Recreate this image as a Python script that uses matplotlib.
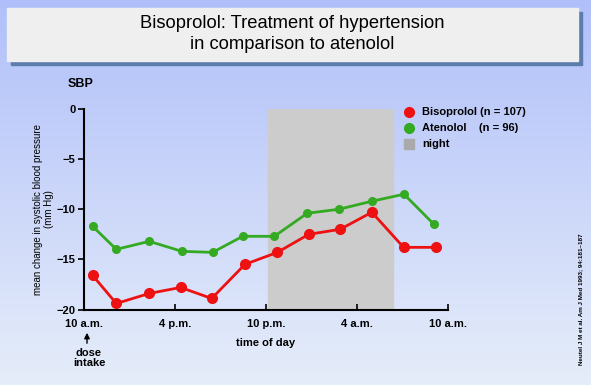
import numpy as np
import matplotlib
matplotlib.use("Agg")
from matplotlib import pyplot as plt
from matplotlib.patches import Rectangle

plt.rcParams['font.family'] = ['Liberation Sans', 'DejaVu Sans']

# hours after 10 a.m. dose intake
hours_biso = [0.57, 2.13, 4.3, 6.37, 8.42, 10.61, 12.75, 14.82, 16.89, 18.98, 21.07, 23.22]
sbp_biso = [-16.6, -19.4, -18.4, -17.8, -18.9, -15.5, -14.3, -12.5, -12.0, -10.3, -13.8, -13.8]

hours_aten = [0.57, 2.13, 4.3, 6.46, 8.48, 10.46, 12.55, 14.72, 16.81, 18.98, 21.1, 23.07]
sbp_aten = [-11.7, -14.0, -13.2, -14.2, -14.3, -12.7, -12.7, -10.4, -10.0, -9.2, -8.5, -11.5]

night_start, night_end = 12.1, 20.4
tick_hours = [0, 6, 12, 18, 24]
tick_labels = ['10 a.m.', '4 p.m.', '10 p.m.', '4 a.m.', '10 a.m.']
y_ticks = [0, -5, -10, -15, -20]

W, H = 591, 385
fig = plt.figure(figsize=(W / 100, H / 100), dpi=100)

# background gradient
bg = fig.add_axes([0, 0, 1, 1], zorder=-10)
grad = np.linspace(0, 1, 256).reshape(-1, 1)
top = np.array([0.69, 0.75, 0.98])
bot = np.array([0.90, 0.93, 0.98])
img = top + (bot - top) * grad[:, :, None]
bg.imshow(img, aspect='auto', extent=[0, 1, 0, 1])
bg.set_axis_off()


def fx(px):
    return px / W


def fy(py):
    return 1 - py / H


# title box with shadow
fig.patches.append(Rectangle((fx(11), fy(65)), fx(571), 53 / H,
                             transform=fig.transFigure, color='#5b7dae', zorder=1))
fig.patches.append(Rectangle((fx(7), fy(61)), fx(571), 53 / H,
                             transform=fig.transFigure, color='#efefef', zorder=2))
fig.text(fx(292), fy(34), "Bisoprolol: Treatment of hypertension\nin comparison to atenolol",
         ha='center', va='center', fontsize=13.2, linespacing=1.3, zorder=3)

ax = fig.add_axes([fx(84), fy(309.5), fx(364), 200.5 / H])
ax.set_facecolor('none')
ax.axvspan(night_start, night_end, ymin=0, ymax=1, color='#cccccc', zorder=0)
ax.plot(hours_biso, sbp_biso, color='#ee1111', lw=2.0, marker='o', ms=7, zorder=3)
ax.plot(hours_aten, sbp_aten, color='#33aa22', lw=2.0, marker='o', ms=5.5, zorder=3)

ax.set_xlim(0, 24)
ax.set_ylim(-20, 0)
ax.set_xticks(tick_hours)
ax.set_xticklabels(tick_labels, fontsize=8, fontweight='bold')
ax.set_yticks(y_ticks)
ax.set_yticklabels(['0', '\u22125', '\u221210', '\u221215', '\u221220'], fontsize=8, fontweight='bold')
ax.tick_params(axis='x', direction='in', length=4, width=1.2, pad=7)
ax.tick_params(axis='y', direction='out', length=4, width=1.2, pad=2)
for s in ['top', 'right']:
    ax.spines[s].set_visible(False)
for s in ['left', 'bottom']:
    ax.spines[s].set_linewidth(1.5)

ax.set_xlabel('time of day', fontsize=8, fontweight='bold', labelpad=6)
ax.set_ylabel('mean change in systolic blood pressure\n(mm Hg)', fontsize=7, labelpad=2, linespacing=1.1)

fig.text(fx(68), fy(84), 'SBP', fontsize=9, fontweight='bold', va='center')

# legend
leg_items = [('#ee1111', 'o', 'Bisoprolol (n = 107)', 112),
             ('#33aa22', 'o', 'Atenolol    (n = 96)', 128),
             ('#aaaaaa', 's', 'night', 144)]
for col, mk, lab, py in leg_items:
    fig.lines.append(plt.Line2D([fx(409)], [fy(py)], marker=mk, color=col, ms=7,
                                transform=fig.transFigure, linestyle='none'))
    fig.text(fx(422), fy(py), lab, fontsize=8, fontweight='bold', va='center')

# dose intake annotation
fig.text(fx(89), fy(358), 'dose\nintake', ha='center', va='center', fontsize=8,
         fontweight='bold', linespacing=1.05)
ax.annotate('', xy=(fx(87), fy(330)), xytext=(fx(87), fy(346)),
            xycoords='figure fraction', textcoords='figure fraction',
            arrowprops=dict(arrowstyle='-|>', color='black', lw=1, mutation_scale=8))

fig.text(fx(581), fy(365), 'Neutel J M et al. Am J Med 1993; 94:181\u2013187', rotation=90,
         fontsize=4.5, fontweight='bold', ha='center', va='bottom')

fig.savefig('out.png', dpi=100)
